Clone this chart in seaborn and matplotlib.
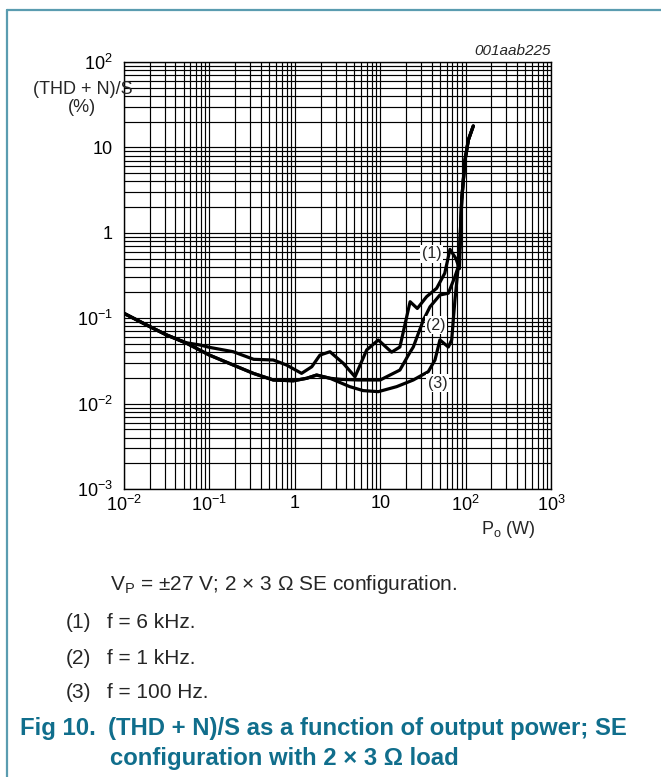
import numpy as np
import pandas as pd
import matplotlib
matplotlib.use("Agg")
import matplotlib.pyplot as plt
from matplotlib.lines import Line2D
import seaborn as sns

# ---------------- data ----------------
p_6k = [0.01, 0.0201, 0.0316, 0.054, 0.078, 0.1, 0.19, 0.33, 0.56, 0.80, 1.2, 1.58, 1.97,
        2.58, 3.7, 5.07, 6.95, 9.5, 13.6, 17, 22.4, 27.2, 35, 45.8, 57, 65.6, 77, 84.6,
        87, 90, 98.4, 107.7, 123]
thd_6k = [0.114, 0.0796, 0.0636, 0.0515, 0.0485, 0.0456, 0.0405, 0.033, 0.0324, 0.0283,
          0.0226, 0.027, 0.037, 0.0405, 0.0296, 0.0206, 0.0425, 0.0556, 0.040, 0.046,
          0.156, 0.13, 0.179, 0.224, 0.336, 0.64, 0.50, 0.38, 0.8, 2.42, 7.1, 12.2, 17.8]

p_1k = [0.01, 0.0201, 0.0316, 0.0542, 0.1, 0.19, 0.327, 0.56, 0.96, 1.38, 1.8, 2.58, 3.5,
        5.5, 10, 17, 22, 24.4, 32, 38.3, 50, 62.8, 75, 82, 86, 90, 98.4, 107.7, 123]
thd_1k = [0.114, 0.0796, 0.0636, 0.0508, 0.037, 0.0283, 0.0226, 0.0189, 0.0185, 0.0198,
          0.0216, 0.0198, 0.0192, 0.0189, 0.0189, 0.0247, 0.0389, 0.046, 0.095, 0.136,
          0.187, 0.196, 0.306, 0.40, 0.8, 2.42, 7.1, 12.2, 17.8]

p_100 = [0.01, 0.0201, 0.0316, 0.0542, 0.1, 0.19, 0.327, 0.56, 0.96, 1.38, 1.8, 2.58,
         4.4, 6.3, 9.5, 15.6, 24.4, 36.6, 43.8, 50, 62.8, 68.7, 75, 82, 86, 90, 98.4,
         107.7, 123]
thd_100 = [0.114, 0.0796, 0.0636, 0.0508, 0.037, 0.0283, 0.0226, 0.0189, 0.0185, 0.0198,
           0.0216, 0.0198, 0.0158, 0.0142, 0.0138, 0.0158, 0.0189, 0.0237, 0.0324,
           0.0556, 0.046, 0.0556, 0.163, 0.40, 0.8, 2.42, 7.1, 12.2, 17.8]

curve_names = ["(1)", "(2)", "(3)"]
x_ticks = [1e-2, 1e-1, 1, 10, 1e2, 1e3]
x_ticklabels = ["$10^{-2}$", "$10^{-1}$", "1", "10", "$10^{2}$", "$10^{3}$"]
y_ticks = [1e-3, 1e-2, 1e-1, 1, 10, 1e2]
y_ticklabels = ["$10^{-3}$", "$10^{-2}$", "$10^{-1}$", "1", "10", "$10^{2}$"]

df = pd.concat([
    pd.DataFrame({"P": p_6k, "THD": thd_6k, "curve": curve_names[0]}),
    pd.DataFrame({"P": p_1k, "THD": thd_1k, "curve": curve_names[1]}),
    pd.DataFrame({"P": p_100, "THD": thd_100, "curve": curve_names[2]}),
], ignore_index=True)

# ---------------- style ----------------
sns.set_style("white")
plt.rcParams["font.family"] = ["Liberation Sans", "DejaVu Sans"]
plt.rcParams["mathtext.fontset"] = "custom"
plt.rcParams["mathtext.rm"] = "Liberation Sans"
plt.rcParams["mathtext.it"] = "Liberation Sans:italic"
plt.rcParams["mathtext.bf"] = "Liberation Sans:bold"

W, H = 661, 777
fig = plt.figure(figsize=(W / 100, H / 100), dpi=100)
fig.patch.set_facecolor("white")

def fx(x):
    return x / W

def fy(y):
    return 1 - y / H

ax_l, ax_r, ax_t, ax_b = 124, 551, 62, 489
ax = fig.add_axes([fx(ax_l), fy(ax_b), (ax_r - ax_l) / W, (ax_b - ax_t) / H])
ax.set_facecolor("white")

sns.lineplot(data=df, x="P", y="THD", hue="curve", units="curve", estimator=None,
             sort=False, palette=["black"] * 3, linewidth=2.3, legend=False, ax=ax,
             zorder=3)

ax.set_xscale("log")
ax.set_yscale("log")
ax.set_xlim(1e-2, 1e3)
ax.set_ylim(1e-3, 1e2)
ax.set_xticks(x_ticks)
ax.set_xticklabels(x_ticklabels)
ax.set_yticks(y_ticks)
ax.set_yticklabels(y_ticklabels)
ax.xaxis.set_minor_locator(matplotlib.ticker.LogLocator(base=10, subs=np.arange(2, 10)))
ax.yaxis.set_minor_locator(matplotlib.ticker.LogLocator(base=10, subs=np.arange(2, 10)))
ax.xaxis.set_minor_formatter(matplotlib.ticker.NullFormatter())
ax.yaxis.set_minor_formatter(matplotlib.ticker.NullFormatter())
ax.grid(True, which="both", color="black", linewidth=0.85)
ax.tick_params(axis="both", which="both", length=0, labelsize=13, colors="black")
ax.tick_params(axis="x", pad=4)
ax.tick_params(axis="y", pad=8)
ax.set_xlabel("")
ax.set_ylabel("")
for s in ax.spines.values():
    s.set_color("black")
    s.set_linewidth(1.0)

# curve labels
label_pos = {"(1)": (40, 0.565), "(2)": (45, 0.083), "(3)": (46.7, 0.0173)}
for name in curve_names:
    x, y = label_pos[name]
    ax.text(x, y, name, fontsize=11.5, ha="center", va="center", zorder=4,
            bbox=dict(boxstyle="square,pad=0.1", fc="white", ec="none"))

# axis titles
fig.text(fx(133), fy(90), "(THD + N)/S", fontsize=13, ha="right", va="center")
fig.text(fx(82), fy(107), "(%)", fontsize=13, ha="center", va="center")
fig.text(fx(508), fy(530), "P$_{\\mathrm{o}}$ (W)", fontsize=13, ha="center", va="center")
fig.text(fx(551), fy(51), "001aab225", fontsize=11, style="italic", ha="right", va="center")

# caption
cap = 15
fig.text(fx(110), fy(585), "V$_{\\mathrm{P}}$ = \u00b127 V; 2 \u00d7 3 \u03a9 SE configuration.",
         fontsize=cap, ha="left", va="center")
for yy, num, txt in [(623, "(1)", "f = 6 kHz."), (658, "(2)", "f = 1 kHz."),
                     (693, "(3)", "f = 100 Hz.")]:
    fig.text(fx(66), fy(yy), num, fontsize=cap, ha="left", va="center")
    fig.text(fx(107), fy(yy), txt, fontsize=cap, ha="left", va="center")

teal = "#106E8C"
tsize = 17.2
fig.text(fx(20), fy(729), "Fig 10.", fontsize=tsize, fontweight="bold", color=teal,
         ha="left", va="center")
fig.text(fx(108), fy(729), "(THD + N)/S as a function of output power; SE",
         fontsize=tsize, fontweight="bold", color=teal, ha="left", va="center")
fig.text(fx(110), fy(759), "configuration with 2 \u00d7 3 \u03a9 load",
         fontsize=tsize, fontweight="bold", color=teal, ha="left", va="center")

# frame lines
border = "#5A9CB0"
fig.add_artist(Line2D([fx(7), 1.0], [fy(10), fy(10)], color=border, linewidth=1.6))
fig.add_artist(Line2D([fx(7), fx(7)], [fy(10), 0.0], color=border, linewidth=1.6))

fig.savefig("out.png", dpi=100, facecolor="white")
